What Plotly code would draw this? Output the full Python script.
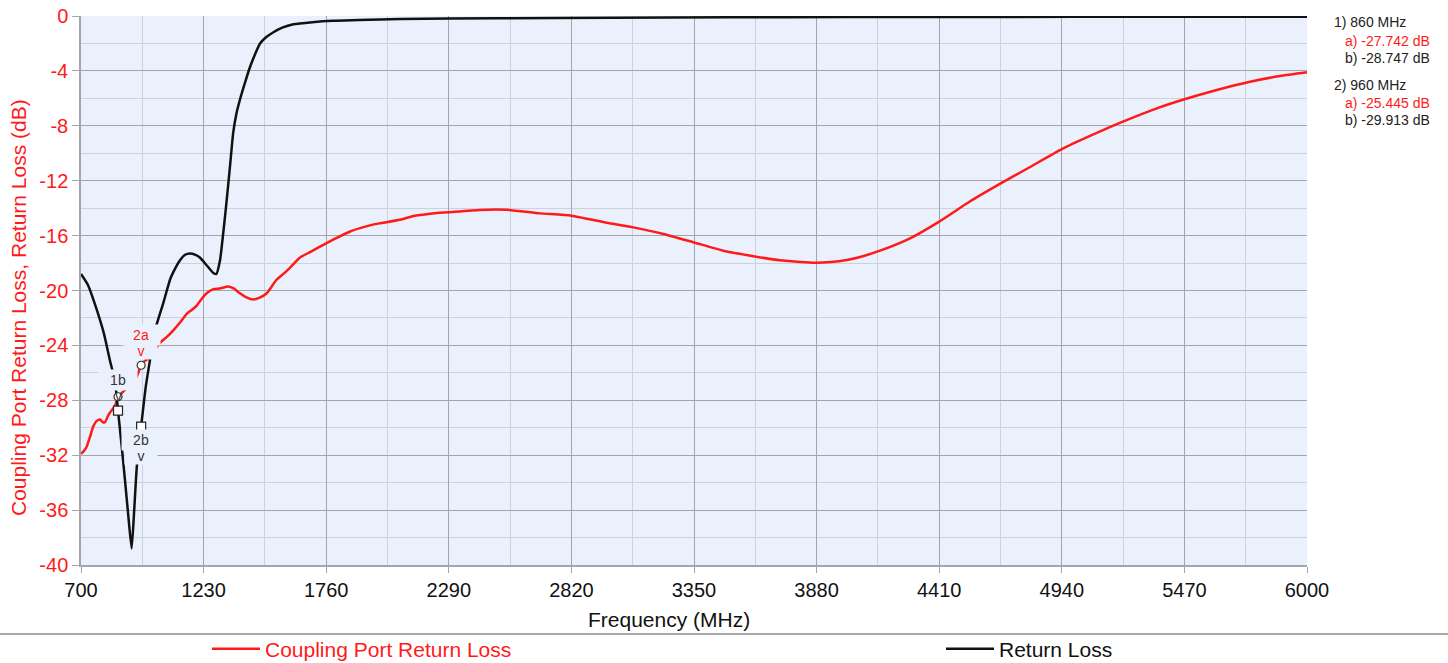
import plotly.graph_objects as go

# ---------------- data ----------------
rl_freq = [700, 730, 768, 800, 825, 847, 860, 875, 890, 905, 919, 930, 941, 960, 980, 998,
           1020, 1056, 1085, 1098, 1128, 1150, 1171, 1195, 1214, 1245, 1271, 1285, 1301, 1315,
           1330, 1345, 1358, 1372, 1387, 1410, 1431, 1452, 1474, 1500, 1530, 1570, 1618, 1700,
           1790, 1900, 2079, 2500, 3000, 3500, 4000, 5000, 6000]
rl_db = [-18.8, -19.6, -21.4, -23.2, -25.1, -26.6, -28.75, -31.2, -33.8, -36.5, -38.8, -36.0,
         -32.9, -29.91, -27.0, -25.1, -22.9, -20.9, -19.2, -18.7, -17.8, -17.4, -17.3, -17.4,
         -17.6, -18.2, -18.7, -18.8, -17.8, -15.8, -13.4, -10.8, -8.5, -7.1, -6.1, -4.8, -3.7,
         -2.8, -2.0, -1.55, -1.2, -0.85, -0.6, -0.45, -0.35, -0.3, -0.22, -0.17, -0.13, -0.1,
         -0.08, -0.06, -0.05]

cp_freq = [700, 712, 724, 740, 753, 768, 782, 795, 804, 815, 825, 847, 860, 880, 900, 926, 945,
           960, 978, 998, 1020, 1042, 1070, 1099, 1130, 1157, 1180, 1200, 1222, 1243, 1272, 1300,
           1337, 1360, 1387, 1415, 1445, 1475, 1503, 1525, 1546, 1560, 1600, 1647, 1690, 1733,
           1790, 1863, 1962, 1993, 2079, 2137, 2210, 2290, 2425, 2540, 2684, 2820, 2973, 3088,
           3218, 3350, 3477, 3607, 3722, 3866, 3940, 4010, 4080, 4154, 4284, 4410, 4544, 4676,
           4803, 4940, 5062, 5204, 5351, 5470, 5610, 5754, 5884, 6000]
cp_db = [-31.9, -31.7, -31.4, -30.6, -29.9, -29.5, -29.4, -29.6, -29.6, -29.2, -28.9, -28.4,
         -27.74, -27.4, -27.1, -26.8, -26.1, -25.45, -25.1, -24.9, -24.3, -23.8, -23.4, -22.9,
         -22.3, -21.7, -21.4, -21.1, -20.6, -20.2, -19.9, -19.85, -19.7, -19.85, -20.2, -20.5,
         -20.65, -20.5, -20.2, -19.7, -19.2, -19.0, -18.4, -17.6, -17.2, -16.8, -16.3, -15.7,
         -15.2, -15.1, -14.85, -14.57, -14.4, -14.3, -14.13, -14.12, -14.38, -14.55, -15.06,
         -15.4, -15.88, -16.5, -17.1, -17.5, -17.8, -17.97, -17.93, -17.78, -17.5, -17.1, -16.2,
         -14.98, -13.5, -12.2, -11.0, -9.7, -8.74, -7.7, -6.73, -6.07, -5.39, -4.79, -4.37, -4.1]

marker_freq = [860, 960]
marker_a = [-27.742, -25.445]   # Coupling Port Return Loss
marker_b = [-28.747, -29.913]   # Return Loss

x_ticks = [700, 1230, 1760, 2290, 2820, 3350, 3880, 4410, 4940, 5470, 6000]
y_ticks = [0, -4, -8, -12, -16, -20, -24, -28, -32, -36, -40]
y_tick_labels = ["0", "-4", "-8", "-12", "-16", "-20", "-24", "-28", "-32", "-36", "-40"]

# ---------------- style ----------------
FONT = "Arial, 'Liberation Sans', sans-serif"
RED = "#FF1A1A"
BLACK = "#111111"
BG = "#EBF1FC"
MAJ = "#A3A5AB"
MIN = "#CDD1D8"

W, H = 1448, 663
L, R, T, B = 81, 141, 16, 98
PW, PH = W - L - R, H - T - B


def px_x(p):
    return (p - L) / PW


def px_y(p):
    return (H - B - p) / PH


fig = go.Figure()
fig.add_trace(go.Scatter(x=cp_freq, y=cp_db, mode="lines", name="Coupling Port Return Loss",
                         legend="legend",
                         line=dict(color=RED, width=2.5, shape="spline", smoothing=0.5)))
fig.add_trace(go.Scatter(x=rl_freq, y=rl_db, mode="lines", name="Return Loss",
                         legend="legend2",
                         line=dict(color=BLACK, width=2.5, shape="spline", smoothing=0.5)))
fig.add_trace(go.Scatter(x=marker_freq, y=marker_a, mode="markers", showlegend=False,
                         marker=dict(symbol="circle", size=8, color="white",
                                     line=dict(color="#333333", width=1.2))))
fig.add_trace(go.Scatter(x=marker_freq, y=marker_b, mode="markers", showlegend=False,
                         marker=dict(symbol="square", size=9, color="white",
                                     line=dict(color="#222222", width=1.2))))

ann = []
# marker labels
lab = dict(xref="x", yref="y", showarrow=False)
ann.append(dict(lab, x=marker_freq[0], y=marker_a[0], text="1b", yshift=17,
                font=dict(family=FONT, size=14, color="#333333"), bgcolor=BG, width=36, height=18))
ann.append(dict(lab, x=marker_freq[0], y=marker_a[0], text="v", yshift=1,
                font=dict(family=FONT, size=14, color="#333333")))
ann.append(dict(lab, x=marker_freq[1], y=marker_a[1], text="2a", yshift=30,
                font=dict(family=FONT, size=14, color=RED), bgcolor=BG, width=36, height=18))
ann.append(dict(lab, x=marker_freq[1], y=marker_a[1], text="v", yshift=14,
                font=dict(family=FONT, size=14, color=RED), bgcolor=BG, width=30, height=14))
ann.append(dict(lab, x=marker_freq[1], y=marker_b[1], text="2b", yshift=-13,
                font=dict(family=FONT, size=14, color="#333333"), bgcolor=BG, width=36, height=18))
ann.append(dict(lab, x=marker_freq[1], y=marker_b[1], text="v", yshift=-29,
                font=dict(family=FONT, size=14, color="#333333"), bgcolor=BG, width=30, height=14))

# marker readout on the right
readout = [
    (1332, 22, "1) %d MHz" % marker_freq[0], "#222222"),
    (1343, 41, "a) %.3f dB" % marker_a[0], RED),
    (1343, 58, "b) %.3f dB" % marker_b[0], "#222222"),
    (1332, 85, "2) %d MHz" % marker_freq[1], "#222222"),
    (1343, 103, "a) %.3f dB" % marker_a[1], RED),
    (1343, 120, "b) %.3f dB" % marker_b[1], "#222222"),
]
for xp, yp, txt, col in readout:
    ann.append(dict(xref="paper", yref="paper", x=px_x(xp), y=px_y(yp), xanchor="left",
                    yanchor="middle", showarrow=False, text=txt,
                    font=dict(family=FONT, size=14, color=col)))

# axis titles
ann.append(dict(xref="paper", yref="paper", x=px_x(669), y=px_y(619), xanchor="center",
                yanchor="middle", showarrow=False, text="Frequency (MHz)",
                font=dict(family=FONT, size=21, color="#111111")))
ann.append(dict(xref="paper", yref="paper", x=px_x(18), y=px_y(308), xanchor="center",
                yanchor="middle", showarrow=False, textangle=-90,
                text="Coupling Port Return Loss, Return Loss (dB)",
                font=dict(family=FONT, size=21, color=RED)))

leg = dict(orientation="h", xanchor="left", yanchor="middle", bgcolor="rgba(0,0,0,0)",
           itemwidth=48, borderwidth=0)
fig.update_layout(
    width=W, height=H,
    margin=dict(l=L, r=R, t=T, b=B, autoexpand=False),
    paper_bgcolor="white", plot_bgcolor=BG,
    font=dict(family=FONT, size=20, color="#111111"),
    showlegend=True,
    legend=dict(leg, x=px_x(207), y=px_y(649), font=dict(family=FONT, size=21, color=RED)),
    legend2=dict(leg, x=px_x(941), y=px_y(649), font=dict(family=FONT, size=21, color="#111111")),
    annotations=ann,
    shapes=[dict(type="line", xref="paper", yref="paper", x0=px_x(0), x1=px_x(W),
                 y0=px_y(634), y1=px_y(634), line=dict(color="#8C8C8C", width=1.5))],
    hovermode=False,
)
fig.update_xaxes(range=[700, 6000], tickvals=x_ticks, ticks="outside", ticklen=6,
                 tickcolor=MAJ, showgrid=True, gridcolor=MAJ, gridwidth=1.2,
                 minor=dict(dtick=265, tick0=700, showgrid=True, gridcolor=MIN, gridwidth=1.2),
                 showline=True, linecolor=MAJ, linewidth=1.5, zeroline=False,
                 tickfont=dict(family=FONT, size=20, color="#111111"))
fig.update_yaxes(range=[-40, 0], tickvals=y_ticks, ticktext=y_tick_labels, ticks="outside",
                 ticklen=7, tickcolor=MAJ, showgrid=True, gridcolor=MAJ, gridwidth=1.2,
                 minor=dict(dtick=2, tick0=0, showgrid=True, gridcolor=MIN, gridwidth=1.2),
                 showline=True, linecolor=MAJ, linewidth=1.5, zeroline=False,
                 tickfont=dict(family=FONT, size=20, color=RED))

fig.write_html("out.html", config={"displayModeBar": False},
               post_script="document.body.style.margin='0';")
